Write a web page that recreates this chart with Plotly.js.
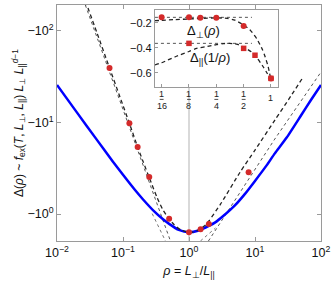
<!DOCTYPE html>
<html><head><meta charset="utf-8">
<script src="https://cdn.plot.ly/plotly-3.0.1.min.js"></script>
<style>html,body{margin:0;padding:0;background:#fff;}#c{width:334px;height:284px;}</style>
</head><body><div id="c"></div>
<script>
// ---- main panel data: rho and -Delta (plotted as magnitude on log axis) ----
const blueRho = [0.01,0.02,0.04,0.07,0.1,0.15,0.2,0.3,0.4,0.5,0.7,1,1.4,2,2.5,3.3,5,7,10,15,20,30,50,70,100];
const blueVal = [25.7,12.9,6.5,3.75,2.68,1.85,1.45,1.06,0.88,0.78,0.67,0.63,0.66,0.74,0.81,0.95,1.25,1.65,2.3,3.4,4.6,6.8,12.0,17.5,25.7];
const dashRho = [0.027,0.04,0.0625,0.09,0.125,0.1667,0.2,0.25,0.33,0.4,0.5,0.6,0.75,0.9,1,1.15,1.3,1.5,1.78,2,3,5.93,10,20,35,52.5];
const dashVal = [212,97,39.4,19,9.8,5.4,3.8,2.5,1.5,1.12,0.88,0.76,0.67,0.64,0.63,0.635,0.655,0.69,0.76,0.84,1.28,2.86,5.0,10.6,19.5,30.6];
const dotLeftRho = [0.025,0.524];
const dotLeftVal = [222,0.506];
const dotLeft2Rho = [0.277,0.44];
const dotLeft2Val = [1.01,0.507];
const dotRightRho = [1.97,19.5,100];
const dotRightVal = [0.507,6.44,35.6];
const dotRight2Rho = [1.49,2.52];
const dotRight2Val = [0.507,0.703];
const ptsRho = [1/16,1/8,1/6,1/4,1/2,1,1.5,2,8];
const ptsVal = [39.4,9.8,5.4,2.54,0.89,0.631,0.68,0.78,2.86];
const mainXTicks = [0.01,0.1,1,10,100];
const mainXText = ['10<sup>−2</sup>','10<sup>−1</sup>','10<sup>0</sup>','10<sup>1</sup>','10<sup>2</sup>'];
const mainYTicks = [1,10,100];
const mainYText = ['−10<sup>0</sup>','−10<sup>1</sup>','−10<sup>2</sup>'];

// ---- inset data ----
const perpDashRho = [0.0527,0.0625,0.0884,0.125,0.177,0.25,0.33,0.4,0.5,0.6,0.7,0.8,0.86,0.93,1];
const perpDashVal = [-0.184,-0.181,-0.175,-0.170,-0.165,-0.161,-0.165,-0.18,-0.218,-0.265,-0.33,-0.41,-0.47,-0.55,-0.66];
const parDashRho = [0.0527,0.0625,0.0884,0.125,0.152,0.2,0.25,0.3,0.35,0.42,0.5,0.64,0.82,0.9,1];
const parDashVal = [-0.538,-0.52,-0.472,-0.43,-0.405,-0.39,-0.375,-0.367,-0.365,-0.372,-0.395,-0.445,-0.552,-0.6,-0.66];
const perpPtsRho = [1/16,1/8,1/6,1/4,1/2,1];
const perpPtsVal = [-0.157,-0.157,-0.16,-0.16,-0.226,-0.645];
const parPtsRho = [1/8,1/2,2/3,1];
const parPtsVal = [-0.365,-0.405,-0.46,-0.645];
const perpLevelRho = [0.0527,0.617];
const perpLevelVal = [-0.157,-0.157];
const parLevelRho = [0.0527,0.617];
const parLevelVal = [-0.365,-0.365];
const insetXTicks = [1/16,1/8,1/4,1/2,1];
const insetXNum = ['1','1','1','1','1'];
const insetXDen = ['16','8','4','2',''];
const insetYTicks = [-0.6,-0.4,-0.2];
const insetYText = ['−0.6','−0.4','−0.2'];

const RED = '#d42a2a';
const FONT = 'Liberation Sans, Arial, sans-serif';
const GRAY = '#9a9a9a';

const traces = [
  {x:[1,1], y:[0.4,24.4], mode:'lines', line:{color:'#cccccc', width:1.5}, hoverinfo:'skip'},
  {x:dotLeftRho, y:dotLeftVal, mode:'lines', line:{color:'#555', width:1, dash:'dot'}},
  {x:dotLeft2Rho, y:dotLeft2Val, mode:'lines', line:{color:'#777', width:1, dash:'dot'}},
  {x:dotRightRho, y:dotRightVal, mode:'lines', line:{color:'#555', width:1, dash:'dot'}},
  {x:dotRight2Rho, y:dotRight2Val, mode:'lines', line:{color:'#777', width:1, dash:'dot'}},
  {x:blueRho, y:blueVal, mode:'lines', line:{color:'#0000ff', width:2.5, shape:'spline', smoothing:0.6}},
  {x:dashRho, y:dashVal, mode:'lines', line:{color:'#222', width:1.3, dash:'4px,3px', shape:'spline', smoothing:0.6}},
  {x:ptsRho, y:ptsVal, mode:'markers', marker:{color:RED, size:6}},
  // inset
  {x:perpLevelRho, y:perpLevelVal, xaxis:'x2', yaxis:'y2', mode:'lines', line:{color:'#555', width:1, dash:'dot'}},
  {x:parLevelRho, y:parLevelVal, xaxis:'x2', yaxis:'y2', mode:'lines', line:{color:'#555', width:1, dash:'dot'}},
  {x:perpDashRho, y:perpDashVal, xaxis:'x2', yaxis:'y2', mode:'lines', line:{color:'#222', width:1.3, dash:'4px,3px', shape:'spline', smoothing:0.6}},
  {x:parDashRho, y:parDashVal, xaxis:'x2', yaxis:'y2', mode:'lines', line:{color:'#222', width:1.3, dash:'4px,3px', shape:'spline', smoothing:0.6}},
  {x:parPtsRho, y:parPtsVal, xaxis:'x2', yaxis:'y2', mode:'markers', marker:{color:RED, size:5.5, symbol:'square'}},
  {x:perpPtsRho, y:perpPtsVal, xaxis:'x2', yaxis:'y2', mode:'markers', marker:{color:RED, size:6}}
];

const annotations = [];
const shapes = [];
insetXTicks.forEach((v,i)=>{
  annotations.push({xref:'x2', yref:'paper', x:Math.log10(v), y: insetXDen[i] ? 0.625 : 0.605, text:insetXNum[i], showarrow:false, font:{family:FONT, size:9, color:'#222'}, xanchor:'center', yanchor:'middle'});
  if (insetXDen[i]) {
    annotations.push({xref:'x2', yref:'paper', x:Math.log10(v), y:0.57, text:insetXDen[i], showarrow:false, font:{family:FONT, size:9, color:'#222'}, xanchor:'center', yanchor:'middle'});
    shapes.push({type:'line', xref:'x2', yref:'paper', x0:v/1.05, x1:v*1.05, y0:0.6, y1:0.6, line:{color:'#222', width:0.8}});
  }
});
annotations.push({xref:'paper', yref:'paper', x:0.555, y:0.887, yanchor:'middle', text:'Δ<sub>⊥</sub>(<i>ρ</i>)', showarrow:false, font:{family:FONT, size:13, color:'#111'}});
annotations.push({xref:'paper', yref:'paper', x:0.58, y:0.775, yanchor:'middle', text:'Δ<sub>||</sub>(1/<i>ρ</i>)', showarrow:false, font:{family:FONT, size:13, color:'#111'}});

const axBase = {showgrid:false, zeroline:false, linecolor:GRAY, linewidth:1, ticks:'inside', ticklen:4, tickcolor:GRAY, tickfont:{family:FONT, size:12.5, color:'#111'}};

const layout = {
  width:334, height:284,
  margin:{l:57, r:13, t:5, b:43},
  paper_bgcolor:'#fff', plot_bgcolor:'#fff',
  showlegend:false,
  font:{family:FONT, color:'#111'},
  xaxis: Object.assign({}, axBase, {type:'log', range:[-2,2], tickvals:mainXTicks, ticktext:mainXText, mirror:'ticks',
    title:{text:'<i>ρ</i> = <i>L</i><sub>⊥</sub>/<i>L</i><sub>||</sub>', font:{family:FONT, size:12.5}, standoff:7}}),
  yaxis: Object.assign({}, axBase, {type:'log', range:[-0.295,2.284], tickvals:mainYTicks, ticktext:mainYText, mirror:'ticks',
    title:{text:'Δ(<i>ρ</i>) ~ <i>f</i><sub>ex</sub>(<i>T</i>, <i>L</i><sub>⊥</sub>, <i>L</i><sub>||</sub>) <i>L</i><sub>⊥</sub> <i>L</i><sub>||</sub><sup><i>d</i>−1</sup>', font:{family:FONT, size:12}, standoff:0}}),
  xaxis2: Object.assign({}, axBase, {type:'log', range:[-1.278,0.077], domain:[0.371,0.837], anchor:'y2', tickvals:insetXTicks, showticklabels:false, mirror:true, ticklen:3}),
  yaxis2: Object.assign({}, axBase, {range:[-0.714,-0.098], domain:[0.6525,0.979], anchor:'x2', tickvals:insetYTicks, ticktext:insetYText, mirror:true, ticklen:3, tickfont:{family:FONT, size:11, color:'#111'}}),
  annotations: annotations,
  shapes: shapes
};

Plotly.newPlot('c', traces, layout, {staticPlot:true, displayModeBar:false});
</script></body></html>
